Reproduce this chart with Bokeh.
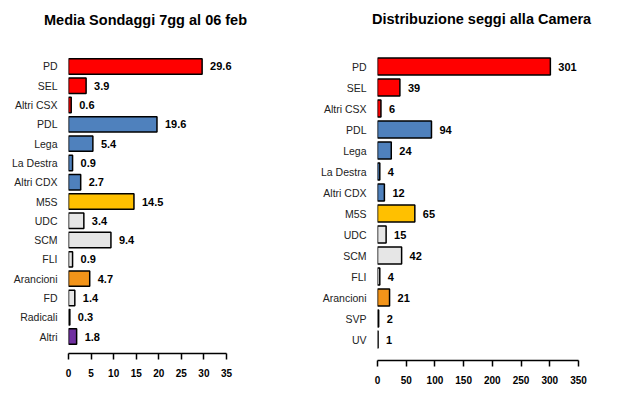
from bokeh.plotting import figure
from bokeh.models import FactorRange, ColumnDataSource, FixedTicker, Range1d, Div
from bokeh.layouts import row, column
from bokeh.embed import file_html
from bokeh.resources import INLINE
from bokeh.core.properties import value

# ---- data ----
poll_title = "Media Sondaggi 7gg al 06 feb"
poll_parties = ["PD", "SEL", "Altri CSX", "PDL", "Lega", "La Destra", "Altri CDX",
                "M5S", "UDC", "SCM", "FLI", "Arancioni", "FD", "Radicali", "Altri"]
poll_values = [29.6, 3.9, 0.6, 19.6, 5.4, 0.9, 2.7, 14.5, 3.4, 9.4, 0.9, 4.7, 1.4, 0.3, 1.8]
poll_ticks = [0, 5, 10, 15, 20, 25, 30, 35]

seat_title = "Distribuzione seggi alla Camera"
seat_parties = ["PD", "SEL", "Altri CSX", "PDL", "Lega", "La Destra", "Altri CDX",
                "M5S", "UDC", "SCM", "FLI", "Arancioni", "SVP", "UV"]
seat_values = [301, 39, 6, 94, 24, 4, 12, 65, 15, 42, 4, 21, 2, 1]
seat_ticks = [0, 50, 100, 150, 200, 250, 300, 350]

party_colors = {
    "PD": "#FF0000", "SEL": "#FF0000", "Altri CSX": "#FF0000",
    "PDL": "#4F81BD", "Lega": "#4F81BD", "La Destra": "#4F81BD", "Altri CDX": "#4F81BD",
    "M5S": "#FFC000", "UDC": "#E6E6E6", "SCM": "#E6E6E6", "FLI": "#E6E6E6",
    "Arancioni": "#F39419", "FD": "#E6E6E6", "Radicali": "#E6E6E6", "Altri": "#7030A0",
    "SVP": "#E6E6E6", "UV": "#E6E6E6",
}

FONT = "Liberation Sans"


def make_title(text, width, pad_left, pad_top):
    html = (f'<div style="padding:{pad_top}px 0 0 {pad_left}px; font-family:\'{FONT}\'; '
            f'font-weight:bold; font-size:14.5px; line-height:17px; color:black; '
            f'white-space:nowrap">{text}</div>')
    return Div(text=html, width=width, height=30, margin=(0, 0, 0, 0))


def make_chart(parties, values, ticks, xmax, pad, axis_w, extra_w, frame_h,
               b_left, b_right, b_top, b_bottom, fmt):
    labels = [fmt(v) for v in values]
    src = ColumnDataSource(dict(party=parties, val=values, lab=labels,
                                color=[party_colors[p] for p in parties]))
    yr = FactorRange(factors=list(reversed(parties)), range_padding=pad,
                     range_padding_units="absolute")
    frame_w = axis_w + extra_w
    xend = xmax * frame_w / axis_w
    p = figure(y_range=yr, x_range=Range1d(0, xend), frame_width=frame_w,
               frame_height=frame_h, output_backend="svg", toolbar_location=None,
               min_border_left=b_left, min_border_right=b_right,
               min_border_top=b_top, min_border_bottom=b_bottom)
    p.hbar(y="party", right="val", left=0, height=0.8, source=src,
           fill_color="color", line_color="black", line_width=1.5)
    p.text(x="val", y="party", text="lab", source=src, x_offset=8,
           text_font=value(FONT), text_font_size="11px", text_font_style="bold",
           text_baseline="middle", text_align="left", text_color="black")
    p.outline_line_color = None
    p.xgrid.grid_line_color = None
    p.ygrid.grid_line_color = None
    p.yaxis.axis_line_color = None
    p.yaxis.major_tick_line_color = None
    p.yaxis.minor_tick_line_color = None
    p.yaxis.major_label_standoff = 5
    p.yaxis.major_label_text_font = FONT
    p.yaxis.major_label_text_font_size = "10.5px"
    p.yaxis.major_label_text_color = "#222222"
    p.xaxis.ticker = FixedTicker(ticks=ticks)
    p.xaxis.bounds = (0, xmax)
    p.xaxis.axis_line_color = "black"
    p.xaxis.axis_line_width = 1.5
    p.xaxis.major_tick_line_color = "black"
    p.xaxis.major_tick_line_width = 1.5
    p.xaxis.major_tick_in = 0
    p.xaxis.major_tick_out = 6
    p.xaxis.minor_tick_line_color = None
    p.xaxis.major_label_standoff = 9
    p.xaxis.major_label_text_font = FONT
    p.xaxis.major_label_text_font_size = "10px"
    p.xaxis.major_label_text_font_style = "bold"
    p.xaxis.major_label_text_color = "black"
    return p


left = make_chart(poll_parties, poll_values, poll_ticks,
                  35, 0.38, 158, 14, 304, 68, 69, 19, 36, lambda v: f"{v:.1f}")
right = make_chart(seat_parties, seat_values, seat_ticks,
                   350, 0.5, 201, 0, 315, 68, 33, 15, 32, lambda v: f"{v}")

layout = row(column(make_title(poll_title, 309, 44, 12), left),
             column(make_title(seat_title, 302, 63, 11), right))
open("out.html", "w").write(file_html(layout, INLINE))
